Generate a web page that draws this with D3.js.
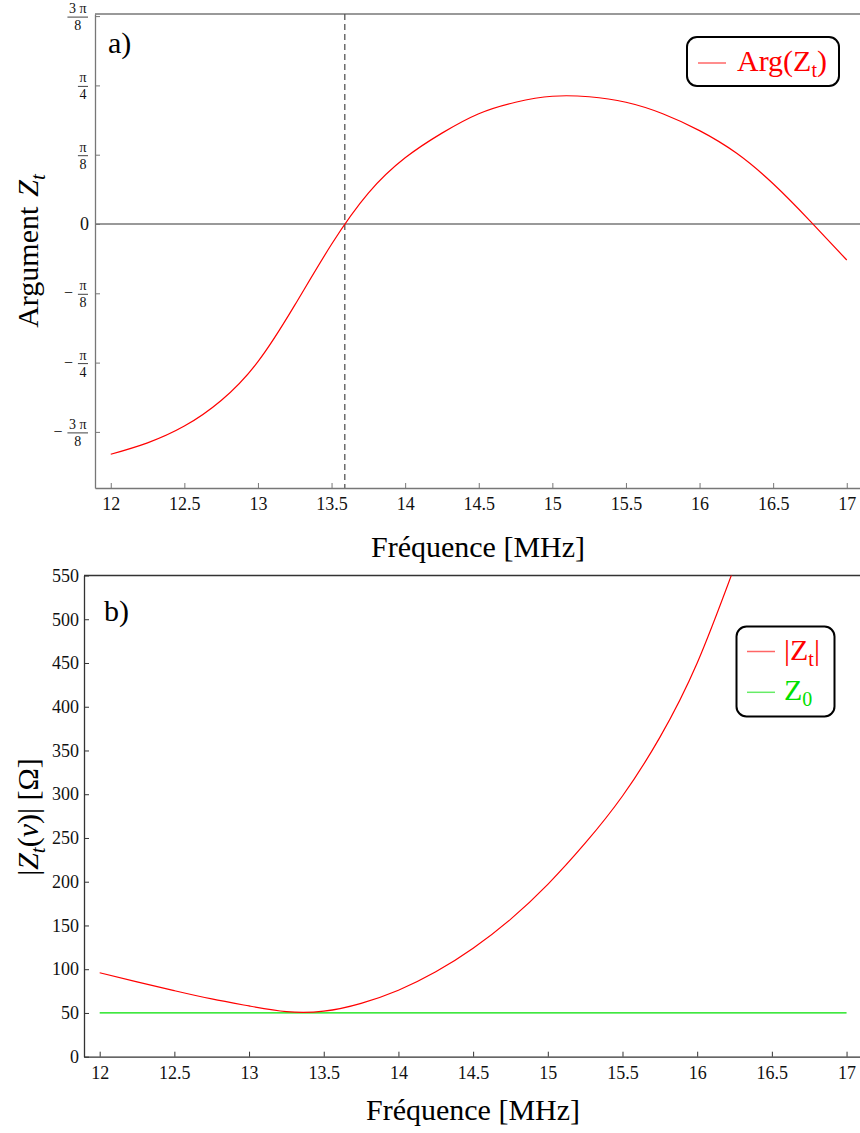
<!DOCTYPE html>
<html>
<head>
<meta charset="utf-8">
<script src="https://cdn.jsdelivr.net/npm/d3@7"></script>
<style>
  html, body { margin: 0; padding: 0; background: #fff; }
  svg { display: block; font-family: "Liberation Serif", "Times New Roman", serif; }
  svg text { font-family: "Liberation Serif", "Times New Roman", serif; }
</style>
</head>
<body>
<svg id="chart" width="860" height="1133"></svg>
<script>
// ---------- data ----------
const xTicks = [12, 12.5, 13, 13.5, 14, 14.5, 15, 15.5, 16, 16.5, 17];
const xTickLabels = ["12", "12.5", "13", "13.5", "14", "14.5", "15", "15.5", "16", "16.5", "17"];

const argTicks = [-3 * Math.PI / 8, -Math.PI / 4, -Math.PI / 8, 0, Math.PI / 8, Math.PI / 4, 3 * Math.PI / 8];
const argTickLabels = ["−3π/8", "−π/4", "−π/8", "0", "π/8", "π/4", "3π/8"];

const magTicks = [0, 50, 100, 150, 200, 250, 300, 350, 400, 450, 500, 550];
const magTickLabels = ["0", "50", "100", "150", "200", "250", "300", "350", "400", "450", "500", "550"];

// Panel a) : argument of Z_t (rad)
const argFreq = [12, 12.25, 12.5, 12.75, 13, 13.25, 13.5, 13.75, 14, 14.25, 14.5, 14.75, 15, 15.25, 15.5, 15.75, 16, 16.25, 16.5, 16.75, 17];
const argVals = [-1.305, -1.240, -1.145, -1.000, -0.780, -0.460, -0.115, 0.175, 0.375, 0.515, 0.625, 0.690, 0.724, 0.721, 0.690, 0.625, 0.529, 0.402, 0.228, 0.018, -0.204];
const resonanceFreq = 13.59;

// Panel b) : |Z_t| (ohm) and Z0
const magFreq = [12, 12.25, 12.5, 12.75, 13, 13.25, 13.5, 13.75, 14, 14.25, 14.5, 14.75, 15, 15.25, 15.5, 15.75, 16, 16.25];
const magVals = [96, 85.5, 75.5, 66, 58, 51.5, 52, 61, 76, 97, 124, 157, 197, 244, 298, 365, 450, 560];
const z0Freq = [12, 17];
const z0Vals = [50, 50];

// ---------- drawing ----------
const svg = d3.select("#chart");
const BIG = 30, TICKF = 18;
const FF = "Liberation Serif";

// ===== Panel a =====
const xA = d3.scaleLinear().domain([11.893, 17.09]).range([95, 860]);
const yA = d3.scaleLinear().domain([-1.496, 1.19]).range([488, 14]);
const colA = "#777";

const gA = svg.append("g");
gA.append("line").attr("x1", xA.range()[0]).attr("x2", xA.range()[1])
  .attr("y1", yA.range()[1]).attr("y2", yA.range()[1])
  .attr("stroke", colA).attr("stroke-width", 1.3);
gA.append("line").attr("x1", xA.range()[0]).attr("x2", xA.range()[1])
  .attr("y1", yA(0)).attr("y2", yA(0))
  .attr("stroke", colA).attr("stroke-width", 1.3);
gA.append("line").attr("x1", xA(resonanceFreq)).attr("x2", xA(resonanceFreq))
  .attr("y1", yA.range()[1]).attr("y2", yA.range()[0])
  .attr("stroke", "#555").attr("stroke-width", 1.3).attr("stroke-dasharray", "6,4");

const axA = gA.append("g").attr("transform", `translate(0,${yA.range()[0]})`)
  .call(d3.axisBottom(xA).tickValues(xTicks).tickSizeInner(-5).tickSizeOuter(0)
    .tickPadding(9).tickFormat((d, i) => xTickLabels[i]));
axA.attr("font-family", FF).attr("font-size", TICKF);
axA.select(".domain").attr("stroke", colA).attr("stroke-width", 1.3);
axA.selectAll(".tick line").attr("stroke", colA);
axA.selectAll(".tick text").attr("fill", "#111");

const ayA = gA.append("g").attr("transform", `translate(${xA.range()[0]},0)`)
  .call(d3.axisLeft(yA).tickValues(argTicks).tickSizeInner(-5).tickSizeOuter(0).tickFormat(""));
ayA.attr("font-family", FF);
ayA.select(".domain").attr("stroke", colA).attr("stroke-width", 1.3);
ayA.selectAll(".tick line").attr("stroke", colA);

argTicks.forEach((v, i) => {
  const lab = argTickLabels[i];
  const ty = yA(v);
  const g = gA.append("g").attr("transform", `translate(${xA.range()[0]},${ty})`).attr("font-family", FF);
  if (lab.indexOf("/") < 0) {
    g.append("text").attr("x", -6).attr("y", 6).attr("text-anchor", "end")
      .attr("font-size", TICKF).attr("fill", "#111").text(lab);
    return;
  }
  const neg = lab[0] === "−";
  const body = neg ? lab.slice(1) : lab;
  const [num, den] = body.split("/");
  const numTxt = num.replace("π", " π").trim();
  const fs = 14;
  const right = -7;
  const tn = g.append("text").attr("font-size", fs).attr("fill", "#111").attr("text-anchor", "middle").attr("y", -3).text(numTxt);
  const td = g.append("text").attr("font-size", fs).attr("fill", "#111").attr("text-anchor", "middle").attr("y", 14).text(den);
  const w = Math.max(tn.node().getComputedTextLength(), td.node().getComputedTextLength()) + 3;
  const cx = right - w / 2;
  tn.attr("x", cx);
  td.attr("x", cx);
  g.append("line").attr("x1", right - w).attr("x2", right).attr("y1", 1).attr("y2", 1)
    .attr("stroke", "#111").attr("stroke-width", 0.8);
  if (neg) {
    g.append("text").attr("x", right - w - 5).attr("y", 5).attr("text-anchor", "end")
      .attr("font-size", 16).attr("fill", "#111").text("−");
  }
});

gA.append("path").datum(argFreq.map((f, i) => [f, argVals[i]]))
  .attr("fill", "none").attr("stroke", "#ff0000").attr("stroke-width", 1.2)
  .attr("d", d3.line().x(d => xA(d[0])).y(d => yA(d[1])).curve(d3.curveNatural));

gA.append("text").attr("x", 108).attr("y", 53).attr("font-size", BIG).text("a)");
gA.append("text").attr("x", 478).attr("y", 557).attr("text-anchor", "middle").attr("font-size", BIG)
  .text("Fréquence [MHz]");
const ytA = gA.append("text").attr("transform", "translate(38,251) rotate(-90)")
  .attr("text-anchor", "middle").attr("font-size", BIG);
ytA.append("tspan").text("Argument");
ytA.append("tspan").attr("dx", 10).attr("font-style", "italic").text("Z");
ytA.append("tspan").attr("font-style", "italic").attr("font-size", 21).attr("dy", 7).text("t");

gA.append("rect").attr("x", 687).attr("y", 37).attr("width", 152).attr("height", 49).attr("rx", 10)
  .attr("fill", "#fff").attr("stroke", "#000").attr("stroke-width", 2);
gA.append("line").attr("x1", 698).attr("x2", 726).attr("y1", 63).attr("y2", 63)
  .attr("stroke", "#ff0000").attr("stroke-opacity", 0.6).attr("stroke-width", 1.5);
const lgA = gA.append("text").attr("x", 737).attr("y", 71).attr("font-size", BIG).attr("fill", "#ff0000");
lgA.append("tspan").text("Arg(Z");
lgA.append("tspan").attr("font-size", 20).attr("dy", 6).text("t");
lgA.append("tspan").attr("dy", -6).text(")");

// ===== Panel b =====
const xB = d3.scaleLinear().domain([11.895, 17.09]).range([84, 860]);
const yB = d3.scaleLinear().domain([0, 550]).range([1056.7, 575.5]);
const colB = "#333";
const gB = svg.append("g");

const defs = svg.append("defs");
defs.append("clipPath").attr("id", "clipB").append("rect")
  .attr("x", xB.range()[0]).attr("y", yB.range()[1])
  .attr("width", xB.range()[1] - xB.range()[0]).attr("height", yB.range()[0] - yB.range()[1]);

gB.append("line").attr("x1", xB.range()[0]).attr("x2", xB.range()[1])
  .attr("y1", yB.range()[1]).attr("y2", yB.range()[1])
  .attr("stroke", colB).attr("stroke-width", 1.3);

const axB = gB.append("g").attr("transform", `translate(0,${yB.range()[0]})`)
  .call(d3.axisBottom(xB).tickValues(xTicks).tickSizeInner(-5).tickSizeOuter(0)
    .tickPadding(10).tickFormat((d, i) => xTickLabels[i]));
axB.attr("font-family", FF).attr("font-size", TICKF);
axB.select(".domain").attr("stroke", colB).attr("stroke-width", 1.3);
axB.selectAll(".tick line").attr("stroke", colB);
axB.selectAll(".tick text").attr("fill", "#111");

const ayB = gB.append("g").attr("transform", `translate(${xB.range()[0]},0)`)
  .call(d3.axisLeft(yB).tickValues(magTicks).tickSizeInner(-5).tickSizeOuter(0)
    .tickPadding(5).tickFormat((d, i) => magTickLabels[i]));
ayB.attr("font-family", FF).attr("font-size", TICKF);
ayB.select(".domain").attr("stroke", colB).attr("stroke-width", 1.3);
ayB.selectAll(".tick line").attr("stroke", colB);
ayB.selectAll(".tick text").attr("fill", "#111");

const lineB = d3.line().x(d => xB(d[0])).y(d => yB(d[1])).curve(d3.curveNatural);
gB.append("path").datum(z0Freq.map((f, i) => [f, z0Vals[i]]))
  .attr("fill", "none").attr("stroke", "#00e000").attr("stroke-width", 1.2).attr("d", lineB);
gB.append("path").datum(magFreq.map((f, i) => [f, magVals[i]]))
  .attr("clip-path", "url(#clipB)")
  .attr("fill", "none").attr("stroke", "#ff0000").attr("stroke-width", 1.2).attr("d", lineB);

gB.append("text").attr("x", 104).attr("y", 621).attr("font-size", BIG).text("b)");
gB.append("text").attr("x", 473).attr("y", 1120).attr("text-anchor", "middle").attr("font-size", BIG)
  .text("Fréquence [MHz]");
const ytB = gB.append("text").attr("transform", "translate(38,817) rotate(-90)")
  .attr("text-anchor", "middle").attr("font-size", BIG);
ytB.append("tspan").text("|");
ytB.append("tspan").attr("font-style", "italic").text("Z");
ytB.append("tspan").attr("font-style", "italic").attr("font-size", 21).attr("dy", 7).text("t");
ytB.append("tspan").attr("dy", -7).text("(");
ytB.append("tspan").attr("font-style", "italic").text("ν");
ytB.append("tspan").text(")| [Ω]");

gB.append("rect").attr("x", 736.5).attr("y", 626.5).attr("width", 98).attr("height", 90).attr("rx", 10)
  .attr("fill", "#fff").attr("stroke", "#000").attr("stroke-width", 2);
gB.append("line").attr("x1", 747).attr("x2", 775).attr("y1", 651.5).attr("y2", 651.5)
  .attr("stroke", "#ff0000").attr("stroke-opacity", 0.6).attr("stroke-width", 1.5);
gB.append("line").attr("x1", 747).attr("x2", 775).attr("y1", 692.3).attr("y2", 692.3)
  .attr("stroke", "#00e000").attr("stroke-opacity", 0.6).attr("stroke-width", 1.5);
const lgB1 = gB.append("text").attr("x", 784).attr("y", 660).attr("font-size", BIG).attr("fill", "#ff0000");
lgB1.append("tspan").text("|Z");
lgB1.append("tspan").attr("font-size", 20).attr("dy", 6).text("t");
lgB1.append("tspan").attr("dy", -6).text("|");
const lgB2 = gB.append("text").attr("x", 784).attr("y", 700).attr("font-size", BIG).attr("fill", "#00e000");
lgB2.append("tspan").text("Z");
lgB2.append("tspan").attr("font-size", 20).attr("dy", 6).text("0");
</script>
</body>
</html>
